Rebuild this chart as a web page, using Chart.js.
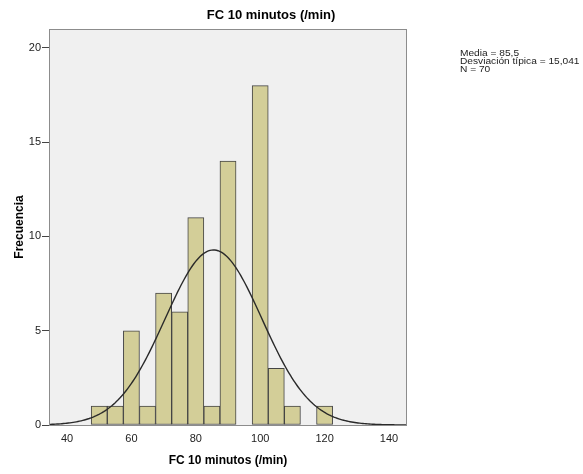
<!DOCTYPE html>
<html lang="es">
  <head>
    <meta charset="UTF-8" />
    <title>FC 10 minutos (/min)</title>
    <script src="https://cdn.jsdelivr.net/npm/chart.js"></script>
    <style>
      body { margin: 0; background: #fff; }
      canvas { display: block; }
    </style>
  </head>
  <body>
    <canvas id="histChart" width="583" height="474"></canvas>

    <script>
      // Histogram bins (centres, width 5) and counts
      const binCentres = [50, 55, 60, 65, 70, 75, 80, 85, 90, 95, 100, 105, 110, 115, 120];
      const counts = [1, 1, 5, 1, 7, 6, 11, 1, 14, 0, 18, 3, 1, 0, 1];
      const binWidth = 5;

      // Summary shown in the chart
      const media = 85.5;
      const desviacion = 15.041;
      const n = 70;
      const statLines = ["Media = 85,5", "Desviación típica = 15,041", "N = 70"];

      const xTicks = [40, 60, 80, 100, 120, 140];
      const yTicks = [0, 5, 10, 15, 20];

      // fitted normal curve from the stats above
      const curve = [];
      for (let x = 34.4; x <= 145.6; x += 0.5) {
        const z = (x - media) / desviacion;
        const y = n * binWidth * Math.exp(-0.5 * z * z) / (desviacion * Math.sqrt(2 * Math.PI));
        curve.push({ x: x, y: y });
      }

      const frame = {
        id: "frame",
        beforeDatasetsDraw(chart) {
          const { ctx, chartArea: a } = chart;
          ctx.save();
          ctx.fillStyle = "#f0f0f0";
          ctx.fillRect(a.left, a.top, a.right - a.left, a.bottom - a.top);
          ctx.restore();
        },
        afterDraw(chart) {
          const { ctx, chartArea: a } = chart;
          ctx.save();
          ctx.strokeStyle = "#8c8c8c";
          ctx.lineWidth = 1;
          ctx.strokeRect(a.left + 0.5, a.top + 0.5, a.right - a.left - 1, a.bottom - a.top);
          ctx.fillStyle = "#000";
          ctx.font = "bold 13px 'Liberation Sans', Arial, sans-serif";
          ctx.textAlign = "center";
          ctx.textBaseline = "middle";
          ctx.fillText("FC 10 minutos (/min)", 271, 15);
          ctx.font = "9.5px 'Liberation Sans', Arial, sans-serif";
          ctx.textAlign = "left";
          ctx.fillStyle = "#222";
          ctx.translate(460, 0);
          ctx.scale(1.07, 1);
          statLines.forEach((t, i) => ctx.fillText(t, 0, 53.5 + i * 8));
          ctx.restore();
        },
      };

      new Chart(document.getElementById("histChart"), {
        type: "bar",
        data: {
          datasets: [
            {
              type: "line",
              data: curve,
              borderColor: "#2a2a2a",
              borderWidth: 1.4,
              pointRadius: 0,
              fill: false,
              order: 0,
            },
            {
              type: "bar",
              data: binCentres.map((c, i) => ({ x: c, y: counts[i] })),
              backgroundColor: "#d3ce98",
              borderColor: "#444",
              borderWidth: 1,
              borderSkipped: false,
              barPercentage: 1,
              categoryPercentage: 1,
              order: 1,
            },
          ],
        },
        options: {
          responsive: false,
          animation: false,
          layout: { padding: { top: 29, right: 176, left: 0, bottom: 0 } },
          plugins: {
            legend: { display: false },
            tooltip: { enabled: false },
          },
          scales: {
            x: {
              type: "linear",
              offset: false,
              min: 34.4,
              max: 145.6,
              afterBuildTicks: (s) => { s.ticks = xTicks.map((v) => ({ value: v })); },
              afterFit: (s) => { s.height = 49; },
              grid: { display: false, drawTicks: true, tickLength: 4 },
              border: { display: false },
              ticks: {
                padding: 3,
                color: "#222",
                font: { family: "'Liberation Sans', Arial, sans-serif", size: 11 },
              },
              title: {
                display: true,
                text: "FC 10 minutos (/min)",
                color: "#000",
                font: { family: "'Liberation Sans', Arial, sans-serif", size: 12, weight: "bold" },
                padding: { top: 0, bottom: 6 },
              },
            },
            y: {
              min: 0,
              max: 21,
              afterBuildTicks: (s) => { s.ticks = yTicks.map((v) => ({ value: v })); },
              afterFit: (s) => { s.width = 49; },
              grid: { drawOnChartArea: false, drawTicks: true, tickLength: 7, color: "#444" },
              border: { display: false },
              ticks: {
                padding: 1,
                color: "#222",
                font: { family: "'Liberation Sans', Arial, sans-serif", size: 11 },
              },
              title: {
                display: true,
                text: "Frecuencia",
                color: "#000",
                font: { family: "'Liberation Sans', Arial, sans-serif", size: 12, weight: "bold" },
                padding: { top: 12, bottom: 0 },
              },
            },
          },
        },
        plugins: [frame],
      });
    </script>
  </body>
</html>
